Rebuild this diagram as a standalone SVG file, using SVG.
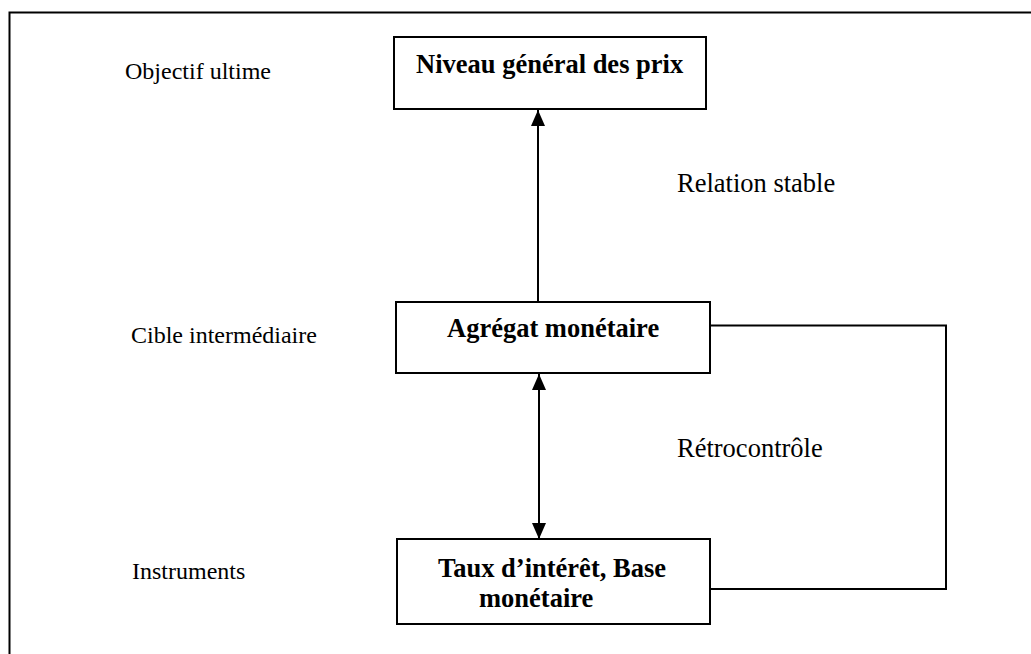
<svg xmlns="http://www.w3.org/2000/svg" width="1031" height="654" viewBox="0 0 1031 654">
<style>
.frame{fill:none;stroke:#000;stroke-width:2}
.box{fill:#fff;stroke:#000;stroke-width:2}
.conn{fill:none;stroke:#000;stroke-width:2}
.lbl{font-family:"Liberation Serif","Times New Roman",serif;font-size:24px;fill:#000}
.rlbl{font-family:"Liberation Serif","Times New Roman",serif;font-size:26.5px;fill:#000}
.btxt{font-family:"Liberation Serif","Times New Roman",serif;font-size:26.5px;font-weight:bold;fill:#000}
</style>
<defs>
<marker id="ah" viewBox="0 0 16 14" refX="16" refY="7" markerWidth="16" markerHeight="14" markerUnits="userSpaceOnUse" orient="auto-start-reverse">
<path d="M0,0 L16,7 L0,14 Z" fill="#000"/>
</marker>
</defs>
<rect width="1031" height="654" fill="#fff"/>
<path class="frame" d="M9.5,660 L9.5,12.5 L1040,12.5"/>

<g id="labels">
<text class="lbl" x="125" y="79">Objectif ultime</text>
<text class="lbl" x="131" y="343">Cible intermédiaire</text>
<text class="lbl" x="132" y="579">Instruments</text>
<text class="rlbl" x="677" y="192">Relation stable</text>
<text class="rlbl" x="677" y="457">Rétrocontrôle</text>
</g>

<g id="connectors">
<line class="conn" x1="538" y1="302" x2="538" y2="110" marker-end="url(#ah)"/>
<line class="conn" x1="539" y1="374" x2="539" y2="539" marker-start="url(#ah)" marker-end="url(#ah)"/>
<polyline class="conn" points="710,325.5 946,325.5 946,589 710,589"/>
</g>

<g id="node-prix">
<rect class="box" x="394" y="37" width="312" height="72"/>
<text class="btxt" x="416" y="73">Niveau général des prix</text>
</g>

<g id="node-agregat">
<rect class="box" x="396" y="302" width="314" height="71"/>
<text class="btxt" x="447" y="337">Agrégat monétaire</text>
</g>

<g id="node-instruments">
<rect class="box" x="397" y="539" width="313" height="85"/>
<text class="btxt" x="438" y="577">Taux d’intérêt, Base</text>
<text class="btxt" x="479" y="607">monétaire</text>
</g>
</svg>
